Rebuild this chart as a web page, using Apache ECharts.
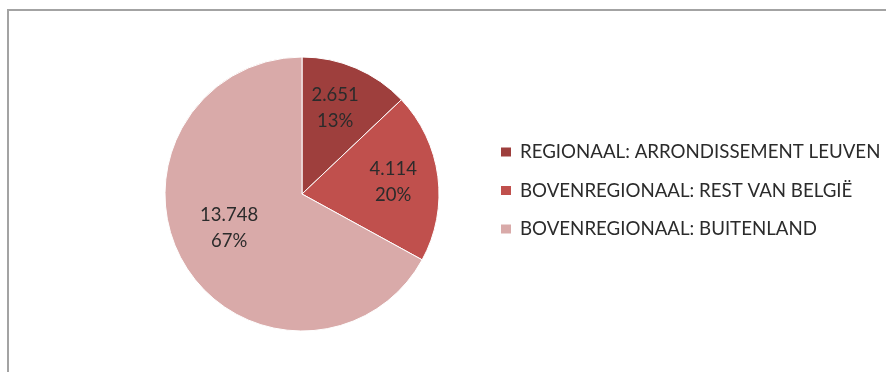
<!DOCTYPE html>
<html>
<head>
<meta charset="utf-8">
<script src="https://cdn.jsdelivr.net/npm/echarts@6/dist/echarts.min.js"></script>
<style>
  html, body { margin: 0; padding: 0; background: #fff; }
  #chart { width: 886px; height: 372px; }
</style>
</head>
<body>
<div id="chart"></div>
<script>
// Herkomst van de bezoekers
const categories = [
  'REGIONAAL: ARRONDISSEMENT LEUVEN',
  'BOVENREGIONAAL: REST VAN BELGIË',
  'BOVENREGIONAAL: BUITENLAND'
];
const values = [2651, 4114, 13748];
const colors = ['#9e3f3d', '#c0504d', '#d9aaa9'];

const FONT = 'Lato, "Open Sans", sans-serif';
const TEXT = '#2b2b2b';

// Dutch thousands separator: 13748 -> "13.748"
function fmtNumber(v) {
  return String(v).replace(/\B(?=(\d{3})+(?!\d))/g, '.');
}

const pieData = categories.map((name, i) => ({
  name: name,
  value: values[i],
  itemStyle: { color: colors[i] }
}));

// small nudges so the labels sit like the classic office layout
const labelNudges = [[-4, 0], [-2, 0], [8, -14]];
const labelData = categories.map((name, i) => ({
  name: name,
  value: values[i],
  label: { offset: labelNudges[i] }
}));

const chart = echarts.init(document.getElementById('chart'), null, { renderer: 'canvas' });

chart.setOption({
  animation: false,
  backgroundColor: '#ffffff',
  graphic: [{
    type: 'polyline',
    shape: { points: [[8, 400], [8, 10], [900, 10]] },
    style: { stroke: '#a3a3a3', lineWidth: 2, fill: null },
    silent: true
  }],
  legend: {
    orient: 'vertical',
    left: 499,
    top: 142,
    padding: 0,
    icon: 'rect',
    itemWidth: 12,
    itemHeight: 11,
    itemGap: 18.5,
    selectedMode: false,
    textStyle: { fontFamily: FONT, fontSize: 18.7, color: TEXT, lineHeight: 20, padding: [0, 0, 0, 3] },
    data: categories
  },
  series: [
    {
      type: 'pie',
      center: [302, 194],
      radius: 137,
      startAngle: 90,
      clockwise: true,
      silent: true,
      itemStyle: { borderColor: '#ffffff', borderWidth: 1 },
      label: { show: false },
      labelLine: { show: false },
      data: pieData
    },
    {
      // transparent ring that only carries the value / percent labels
      type: 'pie',
      center: [302, 194],
      radius: [60, 122],
      startAngle: 90,
      clockwise: true,
      silent: true,
      legendHoverLink: false,
      itemStyle: { color: 'rgba(0,0,0,0)', borderWidth: 0 },
      label: {
        show: true,
        position: 'inside',
        fontFamily: FONT,
        fontSize: 18.5,
        lineHeight: 26,
        color: TEXT,
        formatter: p => fmtNumber(p.value) + '\n' + Math.round(p.percent) + '%'
      },
      labelLine: { show: false },
      data: labelData
    }
  ]
});
</script>
</body>
</html>
